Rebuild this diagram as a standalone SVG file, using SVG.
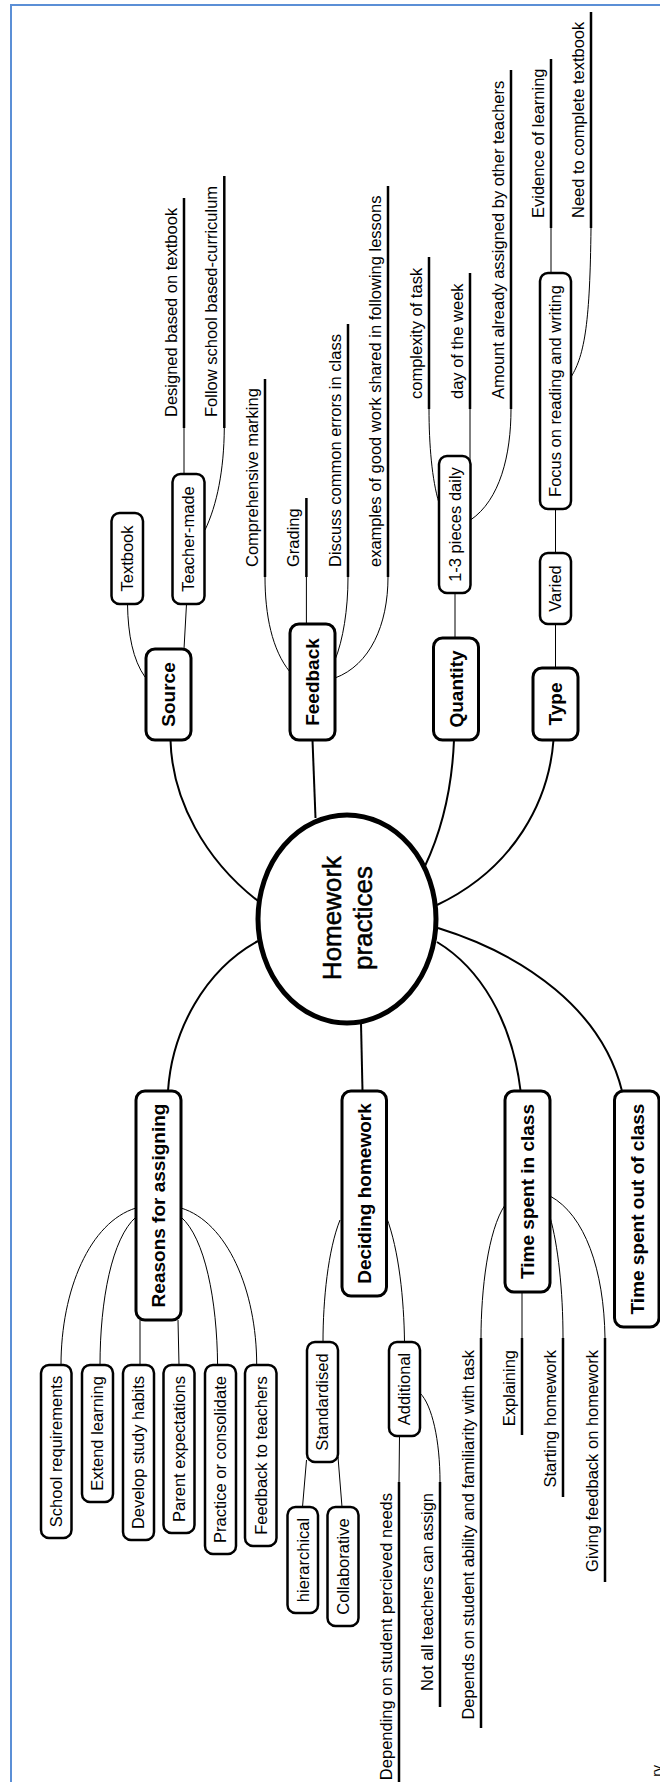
<svg xmlns="http://www.w3.org/2000/svg" width="660" height="1782" viewBox="0 0 660 1782">
<style>
.bg{fill:#fff}
.border{fill:none;stroke:#5b8fd6;stroke-width:2}
.box{fill:#fff;stroke:#000;stroke-width:2.5}
.main{fill:#fff;stroke:#000;stroke-width:3}
.hub{fill:#fff;stroke:#000;stroke-width:5}
.c1{fill:none;stroke:#000;stroke-width:2}
.c2{fill:none;stroke:#000;stroke-width:1}
.ul{fill:none;stroke:#000;stroke-width:2.5}
text{font-family:"Liberation Sans",Arial,Helvetica,sans-serif;font-size:16.5px;fill:#000}
.b{font-weight:bold;font-size:19px}
.hubt{font-size:26px;stroke:#000;stroke-width:0.5}
.m{text-anchor:middle}
.e{text-anchor:end}
</style>
<rect class="bg" x="0" y="0" width="660" height="1782"/>
<rect class="border" x="11" y="5" width="700" height="1800"/>

<g id="connectors">
  <!-- main -->
  <path class="c1" d="M170.5,740 C172,800 205,860 258,901"/>
  <path class="c1" d="M312.5,740 L315.5,818"/>
  <path class="c1" d="M454,740 C452,790 441,832 425,866"/>
  <path class="c1" d="M553.5,740 C549,800 515,868 437,905"/>
  <path class="c1" d="M168,1091 C172,1030 205,970 258,941"/>
  <path class="c1" d="M362.5,1091 L361,1023"/>
  <path class="c1" d="M520.6,1091 C512,1020 480,968 437,942"/>
  <path class="c1" d="M622,1091 C602,1010 525,955 438,928"/>
  <!-- thin -->
  <path class="c2" d="M145,677 C133,660 128,635 127.5,604"/>
  <path class="c2" d="M184,649 L186.5,604"/>
  <path class="c2" d="M184,474 L184,428"/>
  <path class="c2" d="M205,530 C217,505 224,470 224.3,428"/>
  <path class="c2" d="M290,672 C272,650 265,615 265,577"/>
  <path class="c2" d="M306.4,624 L306.4,577"/>
  <path class="c2" d="M335,660 C343,640 348,610 348,577"/>
  <path class="c2" d="M335,678 C370,665 388,625 388,577"/>
  <path class="c2" d="M455,638 L455,593"/>
  <path class="c2" d="M439,503 C432,480 429,445 429,409"/>
  <path class="c2" d="M470,462 L470,409"/>
  <path class="c2" d="M470.5,520 C500,500 511,455 511,409"/>
  <path class="c2" d="M555.5,668 L555.5,624"/>
  <path class="c2" d="M555.5,553 L555.5,509"/>
  <path class="c2" d="M551,273 L551,228"/>
  <path class="c2" d="M571,377 C585,355 590,320 591,228"/>
  <path class="c2" d="M136,1208 C90,1222 61,1290 61,1365"/>
  <path class="c2" d="M136,1217 C112,1238 100,1300 100,1365"/>
  <path class="c2" d="M140,1320 L140,1365"/>
  <path class="c2" d="M178,1320 L179,1365"/>
  <path class="c2" d="M181,1217 C205,1238 217,1300 217.6,1365"/>
  <path class="c2" d="M181,1208 C227,1222 256.7,1290 256.7,1365"/>
  <path class="c2" d="M340,1220 C328,1250 323,1300 323,1342"/>
  <path class="c2" d="M386.4,1217 C399,1250 404,1300 404.5,1342"/>
  <path class="c2" d="M306.5,1460 L302.5,1507"/>
  <path class="c2" d="M338,1457 L342,1507"/>
  <path class="c2" d="M399.5,1436 L399,1482"/>
  <path class="c2" d="M420,1393 C432,1405 440,1440 440,1482"/>
  <path class="c2" d="M505,1205 C488,1230 481,1290 481,1338"/>
  <path class="c2" d="M522,1292 L522,1338"/>
  <path class="c2" d="M550,1217 C558,1245 563,1290 563,1338"/>
  <path class="c2" d="M550,1196 C585,1215 604,1270 605,1338"/>
  <!-- leaf underlines -->
  <path class="ul" d="M184,428 V198 M224.3,428 V176 M265,577 V379 M306.4,577 V498 M348,577 V324 M388,577 V186 M429,409 V257 M470,409 V273 M511,409 V70 M551,228 V59 M591,228 V12"/>
  <path class="ul" d="M399,1482 V1782 M440,1482 V1707 M481,1338 V1728 M522,1338 V1435 M563,1338 V1497 M605,1338 V1582"/>
</g>

<g id="hub">
  <ellipse class="hub" cx="347" cy="919" rx="89" ry="104"/>
  <text class="hubt m" transform="translate(341,918) rotate(-90)">Homework</text>
  <text class="hubt m" transform="translate(372,918) rotate(-90)">practices</text>
</g>

<g id="source"><rect class="main" x="146" y="649" width="45" height="91" rx="9"/><text class="b m" transform="translate(175.3,694.5) rotate(-90)">Source</text></g>
<g id="feedback"><rect class="main" x="290" y="624" width="45" height="116" rx="9"/><text class="b m" transform="translate(319.3,682) rotate(-90)">Feedback</text></g>
<g id="quantity"><rect class="main" x="433.5" y="638" width="45" height="102" rx="9"/><text class="b m" transform="translate(462.8,689) rotate(-90)">Quantity</text></g>
<g id="type"><rect class="main" x="533" y="668" width="45" height="72" rx="9"/><text class="b m" transform="translate(562.3,704) rotate(-90)">Type</text></g>
<g id="reasons"><rect class="main" x="136" y="1091" width="45" height="229" rx="9"/><text class="b m" transform="translate(165.3,1205.5) rotate(-90)">Reasons for assigning</text></g>
<g id="deciding"><rect class="main" x="342" y="1091" width="44.5" height="205" rx="9"/><text class="b m" transform="translate(371,1193.5) rotate(-90)">Deciding homework</text></g>
<g id="timein"><rect class="main" x="505" y="1091" width="45" height="201" rx="9"/><text class="b m" transform="translate(534.3,1191.5) rotate(-90)">Time spent in class</text></g>
<g id="timeout"><rect class="main" x="614.5" y="1091" width="44.5" height="236" rx="9"/><text class="b m" transform="translate(643.5,1209) rotate(-90)">Time spent out of class</text></g>

<g id="textbook"><rect class="box" x="111.5" y="513" width="31.5" height="91" rx="8"/><text class="m" transform="translate(133.2,558.5) rotate(-90)">Textbook</text></g>
<g id="teachermade"><rect class="box" x="172.5" y="474" width="32" height="130" rx="8"/><text class="m" transform="translate(194.4,539) rotate(-90)">Teacher-made</text></g>
<g id="pieces"><rect class="box" x="439" y="456" width="31.5" height="137" rx="8"/><text class="m" transform="translate(460.7,524.5) rotate(-90)">1-3 pieces daily</text></g>
<g id="varied"><rect class="box" x="540" y="553" width="31" height="71" rx="8"/><text class="m" transform="translate(561.4,588.5) rotate(-90)">Varied</text></g>
<g id="focus"><rect class="box" x="540" y="273" width="31" height="236" rx="8"/><text class="m" transform="translate(561.4,391) rotate(-90)">Focus on reading and writing</text></g>

<g id="schoolreq"><rect class="box" x="41" y="1365" width="30.5" height="173" rx="8"/><text class="m" transform="translate(62.2,1451.5) rotate(-90)">School requirements</text></g>
<g id="extend"><rect class="box" x="82" y="1365" width="31" height="137" rx="8"/><text class="m" transform="translate(103.4,1433.5) rotate(-90)">Extend learning</text></g>
<g id="develop"><rect class="box" x="123" y="1365" width="31" height="175" rx="8"/><text class="m" transform="translate(144.4,1452.5) rotate(-90)">Develop study habits</text></g>
<g id="parent"><rect class="box" x="163.5" y="1365" width="31" height="168" rx="8"/><text class="m" transform="translate(184.9,1449) rotate(-90)">Parent expectations</text></g>
<g id="practice"><rect class="box" x="205" y="1365" width="31" height="189" rx="8"/><text class="m" transform="translate(226.4,1459.5) rotate(-90)">Practice or consolidate</text></g>
<g id="fbteachers"><rect class="box" x="245" y="1365" width="31.5" height="181" rx="8"/><text class="m" transform="translate(266.7,1455.5) rotate(-90)">Feedback to teachers</text></g>
<g id="standardised"><rect class="box" x="307" y="1342" width="31" height="120" rx="8"/><text class="m" transform="translate(328.4,1402) rotate(-90)">Standardised</text></g>
<g id="additional"><rect class="box" x="389" y="1342" width="31" height="94" rx="8"/><text class="m" transform="translate(410.4,1389) rotate(-90)">Additional</text></g>
<g id="hierarchical"><rect class="box" x="287.5" y="1507" width="30.5" height="106" rx="8"/><text class="m" transform="translate(308.7,1560) rotate(-90)">hierarchical</text></g>
<g id="collaborative"><rect class="box" x="327.5" y="1507" width="31" height="119" rx="8"/><text class="m" transform="translate(348.9,1566.5) rotate(-90)">Collaborative</text></g>

<g id="leaves-top">
  <text transform="translate(177,417) rotate(-90)">Designed based on textbook</text>
  <text transform="translate(217.3,417) rotate(-90)">Follow school based-curriculum</text>
  <text transform="translate(258,567) rotate(-90)">Comprehensive marking</text>
  <text transform="translate(299.4,567) rotate(-90)">Grading</text>
  <text transform="translate(341,567) rotate(-90)">Discuss common errors in class</text>
  <text transform="translate(381,567) rotate(-90)">examples of good work shared in following lessons</text>
  <text transform="translate(422,399) rotate(-90)">complexity of task</text>
  <text transform="translate(463,399) rotate(-90)">day of the week</text>
  <text transform="translate(504,399) rotate(-90)">Amount already assigned by other teachers</text>
  <text transform="translate(544,218) rotate(-90)">Evidence of learning</text>
  <text transform="translate(584,218) rotate(-90)">Need to complete textbook</text>
</g>
<g id="leaves-bottom">
  <text class="e" transform="translate(392,1493) rotate(-90)">Depending on student percieved needs</text>
  <text class="e" transform="translate(433,1493) rotate(-90)">Not all teachers can assign</text>
  <text class="e" transform="translate(474,1350) rotate(-90)">Depends on student ability and familiarity with task</text>
  <text class="e" transform="translate(515,1350) rotate(-90)">Explaining</text>
  <text class="e" transform="translate(556,1350) rotate(-90)">Starting homework</text>
  <text class="e" transform="translate(598,1350) rotate(-90)">Giving feedback on homework</text>
</g>
<text class="e" style="font-size:14px" transform="translate(662,1765) rotate(-90)">ry</text>
</svg>
